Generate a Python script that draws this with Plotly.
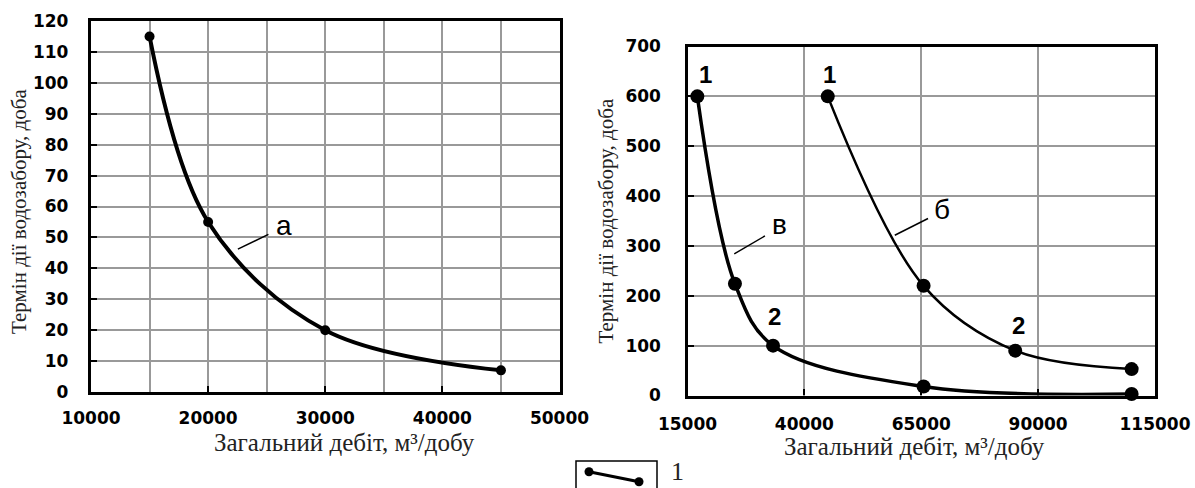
import plotly.graph_objects as go

# ---- data ----
a_x = [15000, 20000, 30000, 45000]
a_y = [115, 55, 20, 7]

v_x = [17100, 25150, 33300, 65500, 110000]
v_y = [600, 224, 100, 18, 3]

b_x = [45000, 65500, 85100, 110000]
b_y = [600, 220, 90, 53]

left_xticks = [10000, 20000, 30000, 40000, 50000]
left_yticks = list(range(0, 121, 10))
right_xticks = [15000, 40000, 65000, 90000, 115000]
right_yticks = list(range(0, 701, 100))

x_title = "Загальний дебіт, м³/добу"
y_title = "Термін дії водозабору, доба"

W, H = 1195, 488
def px(x): return x / W
def py(y): return 1 - y / H

fig = go.Figure()
fig.add_trace(go.Scatter(x=a_x, y=a_y, mode="lines+markers", cliponaxis=False,
                         line=dict(color="black", width=4, shape="spline", smoothing=1.0),
                         marker=dict(size=10, color="black"), xaxis="x", yaxis="y", showlegend=False))
fig.add_trace(go.Scatter(x=v_x, y=v_y, mode="lines+markers", cliponaxis=False,
                         line=dict(color="black", width=3.5, shape="spline", smoothing=1.0),
                         marker=dict(size=14, color="black"), xaxis="x2", yaxis="y2", showlegend=False))
fig.add_trace(go.Scatter(x=b_x, y=b_y, mode="lines+markers", cliponaxis=False,
                         line=dict(color="black", width=2.5, shape="spline", smoothing=1.0),
                         marker=dict(size=14, color="black"), xaxis="x2", yaxis="y2", showlegend=False))

tickfont = dict(family="DejaVu Sans", size=17, color="black", weight="bold")
grid = "#999999"

common = dict(showline=True, linecolor="black", linewidth=3.3, mirror=True, ticks="inside", ticklen=6,
              tickcolor="black", tickwidth=2, gridcolor=grid, gridwidth=1.7, tickfont=tickfont,
              zeroline=False, tickformat="d", automargin=False)

fig.update_layout(
    width=W, height=H, margin=dict(l=0, r=0, t=0, b=0, autoexpand=False),
    paper_bgcolor="white", plot_bgcolor="white",
    xaxis=dict(domain=[px(91), px(559.5)], range=[10000, 50000], tickvals=left_xticks, anchor="y",
               minor=dict(dtick=5000, showgrid=True, gridcolor=grid, gridwidth=1.7, ticks=""),
               ticklabelstandoff=8, **common),
    yaxis=dict(domain=[py(392), py(21)], range=[0, 120], tickvals=left_yticks, anchor="x",
               ticklabelstandoff=16, **common),
    xaxis2=dict(domain=[px(687.5), px(1155)], range=[15000, 115000], tickvals=right_xticks, anchor="y2",
                ticklabelstandoff=11, **common),
    yaxis2=dict(domain=[py(395.5), py(46.5)], range=[0, 700], tickvals=right_yticks, anchor="x2",
                ticklabelstandoff=20, **common),
)

serif = dict(family="Liberation Serif, Times New Roman, serif", color="#222222")
lab = dict(family="Liberation Sans", size=28, color="black")
bold = dict(family="Liberation Sans", size=24, color="black", weight="bold")
ann = [
    # axis titles
    dict(x=px(344.5), y=py(442), xref="paper", yref="paper", text=x_title, font=dict(size=25, **serif)),
    dict(x=px(914), y=py(446), xref="paper", yref="paper", text=x_title, font=dict(size=25, **serif)),
    dict(x=px(19), y=py(212), xref="paper", yref="paper", text=y_title, textangle=-90, font=dict(size=21, **serif)),
    dict(x=px(605), y=py(221.5), xref="paper", yref="paper", text=y_title, textangle=-90, font=dict(size=21, **serif)),
    # curve labels
    dict(x=26450, y=54, xref="x", yref="y", text="а", font=lab),
    dict(x=34700, y=343, xref="x2", yref="y2", text="в", font=lab),
    dict(x=69500, y=373, xref="x2", yref="y2", text="б", font=lab),
    dict(x=18850, y=643, xref="x2", yref="y2", text="1", font=bold),
    dict(x=45330, y=643, xref="x2", yref="y2", text="1", font=bold),
    dict(x=33700, y=158, xref="x2", yref="y2", text="2", font=bold),
    dict(x=85800, y=140, xref="x2", yref="y2", text="2", font=bold),
]
for a in ann:
    a.update(showarrow=False, xanchor="center", yanchor="middle")
    fig.add_annotation(**a)

# legend text
fig.add_annotation(x=px(677), y=py(488), xref="paper", yref="paper", text="1", showarrow=False,
                   xanchor="center", yanchor="bottom", font=dict(size=26, **serif))

shapes = [
    dict(type="line", xref="x", yref="y", x0=22540, y0=46.2, x1=25150, y1=51, line=dict(color="black", width=1.5)),
    dict(type="line", xref="x2", yref="y2", x0=25000, y0=284, x1=31560, y1=320, line=dict(color="black", width=1.5)),
    dict(type="line", xref="x2", yref="y2", x0=59340, y0=321.5, x1=66450, y1=355, line=dict(color="black", width=1.5)),
    # legend box
    dict(type="rect", xref="paper", yref="paper", x0=px(576), x1=px(657), y0=py(500), y1=py(461),
         line=dict(color="black", width=1.5)),
    dict(type="line", xref="paper", yref="paper", x0=px(589), y0=py(471.7), x1=px(639), y1=py(481.7),
         line=dict(color="black", width=3)),
    dict(type="circle", xref="paper", yref="paper", x0=px(584.5), x1=px(593.5), y0=py(476.2), y1=py(467.2),
         fillcolor="black", line=dict(color="black", width=0)),
    dict(type="circle", xref="paper", yref="paper", x0=px(634.5), x1=px(643.5), y0=py(486.2), y1=py(477.2),
         fillcolor="black", line=dict(color="black", width=0)),
]
fig.update_layout(shapes=shapes)

fig.write_html("out.html")
